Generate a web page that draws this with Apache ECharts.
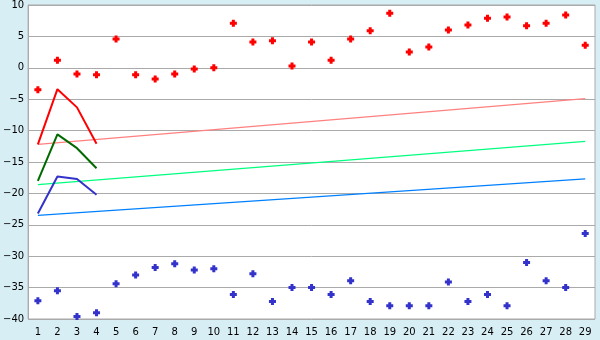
<!DOCTYPE html>
<html>
<head>
<meta charset="utf-8">
<script src="https://cdn.jsdelivr.net/npm/echarts@6/dist/echarts.min.js"></script>
<style>
html,body{margin:0;padding:0;background:#D8EEF5;}
#c{width:600px;height:340px;}
</style>
</head>
<body>
<div id="c"></div>
<script>
const categories = ['1','2','3','4','5','6','7','8','9','10','11','12','13','14','15','16','17','18','19','20','21','22','23','24','25','26','27','28','29'];
const redPoints = [-3.5,1.2,-1.0,-1.1,4.6,-1.1,-1.8,-1.0,-0.2,0.0,7.1,4.1,4.3,0.3,4.1,1.2,4.6,5.9,8.7,2.5,3.3,6.0,6.8,7.9,8.1,6.7,7.1,8.4,3.6];
const bluePoints = [-37.1,-35.5,-39.6,-39.0,-34.4,-33.0,-31.8,-31.2,-32.2,-32.0,-36.1,-32.8,-37.2,-35.0,-35.0,-36.1,-33.9,-37.2,-37.9,-37.9,-37.9,-34.1,-37.2,-36.1,-37.9,-31.0,-33.9,-35.0,-26.4];
const redLine = [-12.2,-3.4,-6.3,-12.1];
const greenLine = [-18.0,-10.6,-12.8,-16.0];
const blueLine = [-23.2,-17.3,-17.7,-20.2];
const pinkTrend = [['1',-12.2],['29',-4.9]];
const greenTrend = [['1',-18.6],['29',-11.7]];
const blueTrend = [['1',-23.5],['29',-17.7]];
const yTicks = {min:-40, max:10, interval:5};

const sym = 'path://M2,0H5V2H7V5H5V7H2V5H0V2H2Z';
const font = 'DejaVu Sans';
const chart = echarts.init(document.getElementById('c'), null, {renderer:'canvas'});
function lineSeries(data, color, width, z){
  return {type:'line', data:data, symbol:'none', lineStyle:{color:color,width:width}, itemStyle:{color:color}, z:z, silent:true};
}
function scatterSeries(data, color){
  return {type:'scatter',data:data,symbol:sym,symbolSize:7,silent:true,
    itemStyle:{color:color,opacity:1},emphasis:{disabled:true},z:4};
}
chart.setOption({
  animation:false,
  backgroundColor:'#D8EEF5',
  grid:{left:26,right:5,top:5,bottom:21,show:true,backgroundColor:'#ffffff',borderColor:'#aaaaaa',borderWidth:1},
  xAxis:{type:'category',data:categories,boundaryGap:true,
    axisLine:{lineStyle:{color:'#aaaaaa'}},
    axisTick:{alignWithLabel:true,length:6,lineStyle:{color:'#333'}},
    axisLabel:{color:'#000',fontFamily:font,fontSize:10,margin:8,interval:0},
    splitLine:{show:false}},
  yAxis:{type:'value',min:yTicks.min,max:yTicks.max,interval:yTicks.interval,
    axisLine:{show:true,lineStyle:{color:'#aaaaaa'}},
    axisTick:{show:false},
    axisLabel:{color:'#000',fontFamily:font,fontSize:10,margin:4,
      formatter:v=> v<0 ? '\u2212'+Math.abs(v) : String(v)},
    splitLine:{lineStyle:{color:'#aaaaaa',width:1}}},
  series:[
    lineSeries(pinkTrend,'#FF8080',1.3,2),
    lineSeries(greenTrend,'#00FF80',1.3,2),
    lineSeries(blueTrend,'#0080FF',1.3,2),
    lineSeries(redLine,'#FF0000',2,3),
    lineSeries(greenLine,'#006A00',2,3),
    lineSeries(blueLine,'#3333CC',2,3),
    scatterSeries(redPoints,'#FF0000'),
    scatterSeries(bluePoints,'#3333CC')
  ]
});
</script>
</body>
</html>
